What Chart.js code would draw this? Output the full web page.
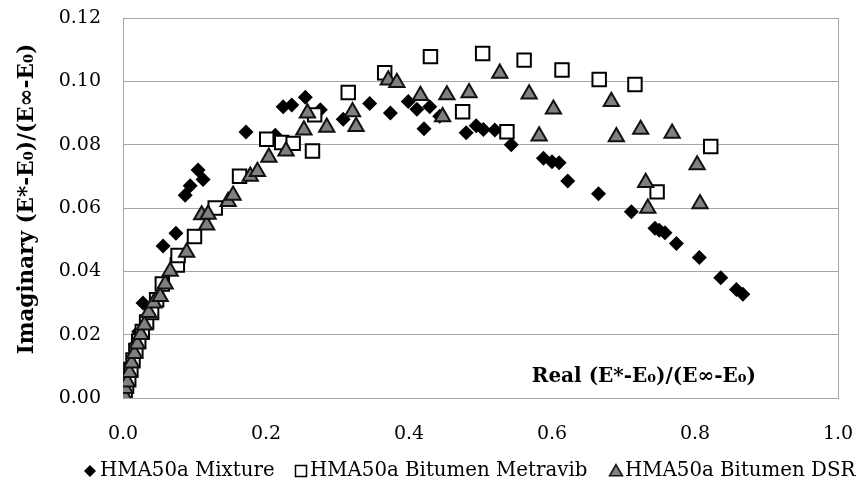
<!DOCTYPE html>
<html>
<head>
<meta charset="utf-8">
<script src="https://cdn.jsdelivr.net/npm/chart.js@4/dist/chart.umd.min.js"></script>
<style>
html,body{margin:0;padding:0;background:#fff;}
#wrap{width:863px;height:492px;position:relative;}
</style>
</head>
<body>
<div id="wrap"><canvas id="c" width="863" height="492"></canvas></div>
<script>
// ---- data ----
const seriesNames = ["HMA50a Mixture", "HMA50a Bitumen Metravib", "HMA50a Bitumen DSR"];

const mixX = [0.001,0.003,0.005,0.008,0.011,0.014,0.018,0.022,0.028,0.056,0.074,0.087,0.094,0.105,0.112,0.172,0.213,0.224,0.236,0.255,0.276,0.308,0.345,0.374,0.399,0.411,0.421,0.429,0.443,0.480,0.494,0.504,0.520,0.543,0.588,0.600,0.610,0.622,0.665,0.711,0.744,0.750,0.758,0.774,0.806,0.836,0.858,0.867];
const mixY = [0.000,0.002,0.004,0.007,0.010,0.013,0.017,0.021,0.030,0.048,0.052,0.064,0.067,0.072,0.069,0.084,0.083,0.092,0.0925,0.095,0.091,0.088,0.093,0.090,0.0936,0.0912,0.085,0.092,0.089,0.0838,0.086,0.0848,0.0846,0.080,0.0757,0.0746,0.0743,0.0685,0.0645,0.0588,0.0536,0.053,0.0522,0.0488,0.0444,0.038,0.0343,0.0328];

const metX = [0.001,0.003,0.005,0.008,0.011,0.014,0.018,0.022,0.027,0.033,0.040,0.047,0.055,0.076,0.077,0.100,0.129,0.163,0.201,0.222,0.238,0.265,0.268,0.315,0.366,0.430,0.475,0.503,0.537,0.561,0.614,0.666,0.716,0.747,0.822];
const metY = [0.000,0.002,0.004,0.006,0.009,0.012,0.015,0.018,0.021,0.024,0.027,0.031,0.036,0.042,0.045,0.051,0.060,0.070,0.0817,0.0807,0.0804,0.078,0.0894,0.0965,0.1027,0.1078,0.0904,0.1088,0.0841,0.1067,0.1036,0.1006,0.099,0.0651,0.0794];

const dsrX = [0.001,0.003,0.006,0.009,0.012,0.016,0.020,0.025,0.030,0.036,0.043,0.052,0.059,0.066,0.089,0.110,0.117,0.119,0.147,0.154,0.178,0.188,0.204,0.228,0.253,0.258,0.285,0.321,0.326,0.371,0.383,0.416,0.447,0.453,0.484,0.527,0.568,0.582,0.602,0.683,0.690,0.724,0.731,0.734,0.768,0.803,0.807];
const dsrY = [0.001,0.003,0.005,0.008,0.011,0.014,0.017,0.020,0.023,0.027,0.030,0.032,0.036,0.040,0.046,0.0578,0.0546,0.058,0.062,0.064,0.070,0.0715,0.076,0.078,0.0846,0.090,0.0855,0.0904,0.0857,0.1004,0.0996,0.0955,0.0888,0.0957,0.0964,0.1025,0.096,0.0827,0.0912,0.0936,0.0825,0.0848,0.068,0.0599,0.0836,0.0736,0.0613];

const xTickLabels = ["0.0","0.2","0.4","0.6","0.8","1.0"];
const yTickLabels = ["0.00","0.02","0.04","0.06","0.08","0.10","0.12"];
const xTitle = "Real (E*-E\u2080)/(E\u221E-E\u2080)";
const yTitle = "Imaginary (E*-E\u2080)/(E\u221E-E\u2080)";

function pts(xs, ys){ return xs.map((x,i)=>({x:x, y:ys[i]})); }

const FONT = "'DejaVu Serif', 'Liberation Serif', serif";
const GRID = "#a6a6a6";

function drawMarker(ctx, style, x, y, s, fill, stroke, lw){
  ctx.beginPath();
  if (style === 'rectRot') {
    ctx.moveTo(x - s, y); ctx.lineTo(x, y - s); ctx.lineTo(x + s, y); ctx.lineTo(x, y + s);
  } else if (style === 'rect') {
    ctx.rect(x - s, y - s, 2*s, 2*s);
  } else {
    ctx.moveTo(x, y - s); ctx.lineTo(x + s*0.866, y + s*0.5); ctx.lineTo(x - s*0.866, y + s*0.5);
  }
  ctx.closePath();
  ctx.fillStyle = fill; ctx.fill();
  if (lw > 0) { ctx.lineWidth = lw; ctx.strokeStyle = stroke; ctx.stroke(); }
}

const titlesPlugin = {
  id: 'titlesPlugin',
  beforeDatasetsDraw(chart){
    const a = chart.chartArea, ctx = chart.ctx;
    ctx.save();
    ctx.strokeStyle = GRID; ctx.lineWidth = 1;
    ctx.beginPath();
    ctx.moveTo(Math.round(a.right)+0.5, a.top);
    ctx.lineTo(Math.round(a.right)+0.5, a.bottom);
    ctx.stroke();
    ctx.restore();
  },
  afterDraw(chart){
    const ctx = chart.ctx;
    ctx.save();
    ctx.fillStyle = "#000";
    ctx.font = "bold 20px " + FONT;
    ctx.textAlign = "right"; ctx.textBaseline = "middle";
    ctx.fillText(xTitle, 756, 377);
    ctx.save();
    ctx.translate(27, 199);
    ctx.rotate(-Math.PI/2);
    ctx.textAlign = "center";
    ctx.font = "bold 21.5px " + FONT;
    ctx.fillText(yTitle, 0, 0);
    ctx.restore();

    // legend (built from the datasets)
    const ly = 471;
    const items = [
      {mx: 90, tx: 100},
      {mx: 301, tx: 310},
      {mx: 616, tx: 625}
    ];
    ctx.font = "19.8px " + FONT;
    ctx.textAlign = "left"; ctx.textBaseline = "middle";
    chart.data.datasets.forEach((ds, i) => {
      const it = items[i];
      const s = ds.pointStyle === 'rect' ? 5.5 : (ds.pointStyle === 'rectRot' ? 6 : 7.5);
      drawMarker(ctx, ds.pointStyle, it.mx, ly + (ds.pointStyle === 'triangle' ? 1 : 0), s,
                 ds.backgroundColor, ds.borderColor, ds.pointStyle === 'rectRot' ? 0 : 1.5);
      ctx.fillStyle = "#000";
      ctx.fillText(ds.label, it.tx, ly);
    });
    ctx.restore();
  }
};

new Chart(document.getElementById('c'), {
  type: 'scatter',
  data: {
    datasets: [
      { label: seriesNames[0], data: pts(mixX, mixY), pointStyle: 'rectRot', pointRadius: 7.5,
        backgroundColor: '#000', borderColor: '#000', borderWidth: 0, order: 3 },
      { label: seriesNames[1], data: pts(metX, metY), pointStyle: 'rect', pointRadius: 9.5,
        backgroundColor: '#fff', borderColor: '#000', borderWidth: 2, order: 2 },
      { label: seriesNames[2], data: pts(dsrX, dsrY), pointStyle: 'triangle', pointRadius: 8.8,
        backgroundColor: '#808080', borderColor: '#111', borderWidth: 2, order: 1 }
    ]
  },
  options: {
    responsive: false,
    animation: false,
    events: [],
    layout: { padding: { left: 0, right: 25, top: 18, bottom: 0 } },
    plugins: {
      tooltip: { enabled: false },
      legend: { display: false }
    },
    scales: {
      x: {
        type: 'linear', min: 0, max: 1,
        afterFit: s => { s.height = 94; s.paddingLeft = 0; s.paddingRight = 0; },
        afterBuildTicks: s => { s.ticks = xTickLabels.map(t => ({value: parseFloat(t)})); },
        ticks: { padding: 25, color: '#000', font: { family: FONT, size: 19 },
          callback: (v) => xTickLabels.find(t => Math.abs(parseFloat(t)-v) < 1e-9) ?? '' },
        grid: { display: false, drawTicks: false },
        border: { display: true, color: GRID, width: 1 }
      },
      y: {
        type: 'linear', min: 0, max: 0.12,
        afterFit: s => { s.width = 123; s.paddingTop = 0; s.paddingBottom = 0; },
        afterBuildTicks: s => { s.ticks = yTickLabels.map(t => ({value: parseFloat(t)})); },
        ticks: { padding: 22, color: '#000', font: { family: FONT, size: 19 },
          callback: (v) => yTickLabels.find(t => Math.abs(parseFloat(t)-v) < 1e-9) ?? '' },
        grid: { color: GRID, lineWidth: 1, drawTicks: false },
        border: { display: true, color: GRID, width: 1 }
      }
    }
  },
  plugins: [titlesPlugin]
});
</script>
</body>
</html>
